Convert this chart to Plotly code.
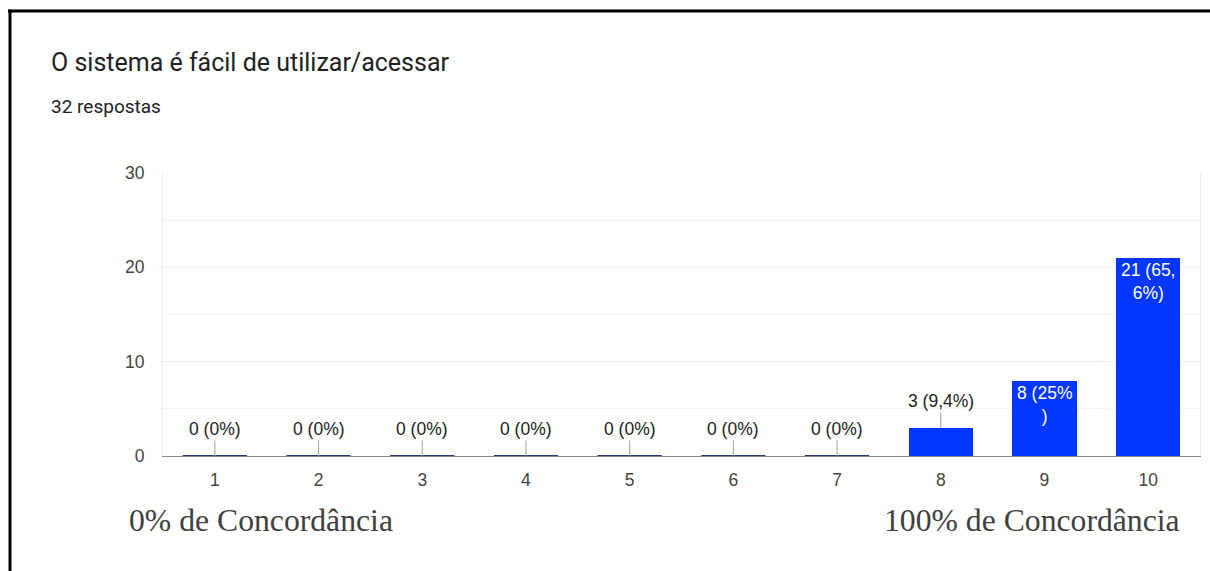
import plotly.graph_objects as go

categories = ["1", "2", "3", "4", "5", "6", "7", "8", "9", "10"]
counts = [0, 0, 0, 0, 0, 0, 0, 3, 8, 21]
labels = ["0 (0%)", "0 (0%)", "0 (0%)", "0 (0%)", "0 (0%)", "0 (0%)", "0 (0%)",
          "3 (9,4%)", "8 (25%<br>)", "21 (65,<br>6%)"]
inside_label = [False] * 8 + [True, True]
y_ticks = [0, 10, 20, 30]
title_text = "O sistema é fácil de utilizar/acessar"
subtitle_text = "32 respostas"
left_caption = "0% de Concordância"
right_caption = "100% de Concordância"

W, H = 1210, 571
L, R, T, B = 163, 10, 173, 115
PW, PH = W - L - R, H - T - B

BLUE = "#0336ff"
NAVY = "#2a3878"
BAR_W = 0.62
LBL = 17.5

def px_x(p):
    return (p - L) / PW

def px_y(p):
    return 1 - (p - T) / PH

fig = go.Figure()
fig.add_trace(go.Bar(
    x=list(range(len(categories))), y=counts, width=BAR_W,
    marker=dict(color=BLUE, line=dict(width=0)),
    hoverinfo="skip", showlegend=False,
))

# navy segments for zero-height bars
zx, zy = [], []
for i, v in enumerate(counts):
    if v == 0:
        zx += [i - BAR_W / 2, i + BAR_W / 2, None]
        zy += [0, 0, None]
fig.add_trace(go.Scatter(x=zx, y=zy, mode="lines", line=dict(color=NAVY, width=2),
                         hoverinfo="skip", showlegend=False, cliponaxis=False))

annotations = []
for i, (v, lab, inside) in enumerate(zip(counts, labels, inside_label)):
    if inside:
        annotations.append(dict(
            x=i, y=v, xref="x", yref="y", text=lab, showarrow=False,
            yanchor="top", yshift=0, align="center",
            font=dict(family="Liberation Sans, Arial", size=LBL, color="white"),
        ))
    else:
        annotations.append(dict(
            x=i, y=v, xref="x", yref="y", text=lab, showarrow=True,
            arrowhead=0, arrowwidth=1, arrowcolor="#9e9e9e", ax=0, ay=-27,
            standoff=0,
            font=dict(family="Liberation Sans, Arial", size=LBL, color="#222222"),
        ))

annotations += [
    dict(x=px_x(49), y=px_y(63), xref="paper", yref="paper", text=title_text,
         showarrow=False, xanchor="left", yanchor="middle",
         font=dict(family="Roboto, Arial", size=25, color="#202124")),
    dict(x=px_x(49), y=px_y(106), xref="paper", yref="paper", text=subtitle_text,
         showarrow=False, xanchor="left", yanchor="middle",
         font=dict(family="Roboto, Arial", size=19, color="#202124")),
    dict(x=px_x(127), y=px_y(520), xref="paper", yref="paper", text=left_caption,
         showarrow=False, xanchor="left", yanchor="middle",
         font=dict(family="Liberation Serif, Times New Roman", size=31.7, color="#404040")),
    dict(x=px_x(1182), y=px_y(520), xref="paper", yref="paper", text=right_caption,
         showarrow=False, xanchor="right", yanchor="middle",
         font=dict(family="Liberation Serif, Times New Roman", size=31.7, color="#404040")),
]

shapes = [
    dict(type="line", xref="paper", yref="paper", x0=px_x(8), x1=px_x(W + 5),
         y0=px_y(11), y1=px_y(11), line=dict(color="black", width=3)),
    dict(type="line", xref="paper", yref="paper", x0=px_x(10), x1=px_x(10),
         y0=px_y(9.5), y1=px_y(H + 5), line=dict(color="black", width=3)),
]

fig.update_layout(
    width=W, height=H, margin=dict(l=L, r=R, t=T, b=B),
    paper_bgcolor="white", plot_bgcolor="white",
    bargap=0, annotations=annotations, shapes=shapes,
    xaxis=dict(
        tickmode="array", tickvals=list(range(len(categories))), ticktext=categories,
        range=[-0.5, len(categories) - 0.5], showgrid=False, zeroline=False,
        showline=True, linecolor="#8a8a8a", linewidth=1, ticks="",
        ticklabelstandoff=8,
        tickfont=dict(family="Liberation Sans, Arial", size=LBL, color="#444444"),
    ),
    yaxis=dict(
        range=[0, 30], tickvals=y_ticks, showgrid=True, gridcolor="#ececec",
        gridwidth=1, zeroline=False, showline=True, linecolor="#ececec",
        mirror=True, ticks="", ticklabelstandoff=14,
        minor=dict(tickvals=[5, 15, 25], showgrid=True, gridcolor="#f3f3f3", gridwidth=1),
        tickfont=dict(family="Liberation Sans, Arial", size=LBL, color="#444444"),
    ),
    font=dict(family="Liberation Sans, Arial"),
)

fig.write_html("out.html")
